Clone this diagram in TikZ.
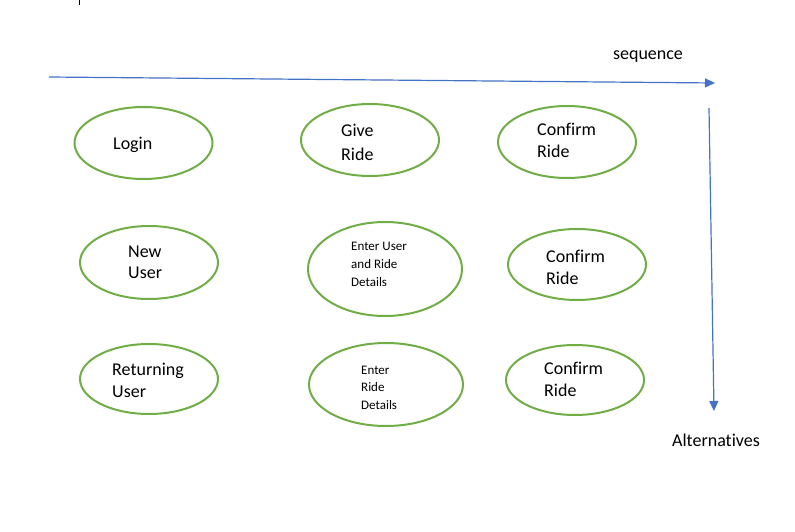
\documentclass[tikz,border=0pt]{standalone}
\usepackage{fontspec}
\setmainfont{Carlito}[Ligatures=NoCommon]
\usetikzlibrary{shapes.geometric,arrows.meta}
\definecolor{actgreen}{HTML}{70AD47}
\definecolor{flowblue}{HTML}{4472C4}

\begin{document}
\begin{tikzpicture}[x=1pt,y=-1pt,
    act/.style={ellipse, draw=actgreen, line width=2pt, inner sep=0pt,
      minimum width=138pt, minimum height=72pt},
    txt/.style={anchor=west, align=left, inner sep=0pt,
      font=\fontsize{18}{22}\selectfont},
    small/.style={anchor=west, align=left, inner sep=0pt,
      font=\fontsize{13}{18}\selectfont},
    flow/.style={draw=flowblue, line width=1.2pt,
      -{Triangle[length=10pt,width=9pt]}}]
            \useasboundingbox (0,0) rectangle (795,532);
            \draw[line width=0.8pt] (79,0) -- (79,5);

            \node[act]                      (login)    at (143.5,143) {};
            \node[act]                      (give)     at (370,140) {};
            \node[act]                      (confirmA) at (567,142) {};
            \node[act, minimum height=73pt] (newuser)  at (149,262.5) {};
            \node[act, minimum width=154pt, minimum height=94pt] (enterUR) at (385,269) {};
            \node[act, minimum height=71pt] (confirmB) at (577,264.5) {};
            \node[act, minimum height=70pt] (returning) at (149,379) {};
            \node[act, minimum width=154pt, minimum height=83pt] (enterR) at (386,384.5) {};
            \node[act, minimum height=70pt] (confirmC) at (575,380) {};

            \node[txt] (login-t)     at (113,145) {Login};
            \node[txt, font=\fontsize{18}{24}\selectfont] (give-t) at (341,142) {Give\\Ride};
            \node[txt] (confirmA-t)  at (537,140) {Confirm\\Ride};
            \node[txt, font=\fontsize{18}{21}\selectfont] (newuser-t) at (128,262.5) {New\\User};
            \node[small] (enterUR-t) at (351,264) {Enter User\\and Ride\\Details};
            \node[txt] (confirmB-t)  at (546,267) {Confirm\\Ride};
            \node[txt] (returning-t) at (112,380) {Returning\\User};
            \node[small, font=\fontsize{13}{17.5}\selectfont] (enterR-t) at (361,387.5) {Enter\\Ride\\Details};
            \node[txt] (confirmC-t)  at (544,379) {Confirm\\Ride};

            \coordinate (seqstart) at (49,77);
            \coordinate (seqend)   at (715,83);
            \coordinate (altstart) at (709,108);
            \coordinate (altend)   at (714,411);
            \draw[flow] (seqstart) -- (seqend);
            \draw[flow] (altstart) -- (altend);
            \node[font=\fontsize{18}{22}\selectfont] (seq) at (648,57) {sequence};
            \node[font=\fontsize{18}{22}\selectfont] (alt) at (716,440) {Alternatives};
\end{tikzpicture}
\end{document}
